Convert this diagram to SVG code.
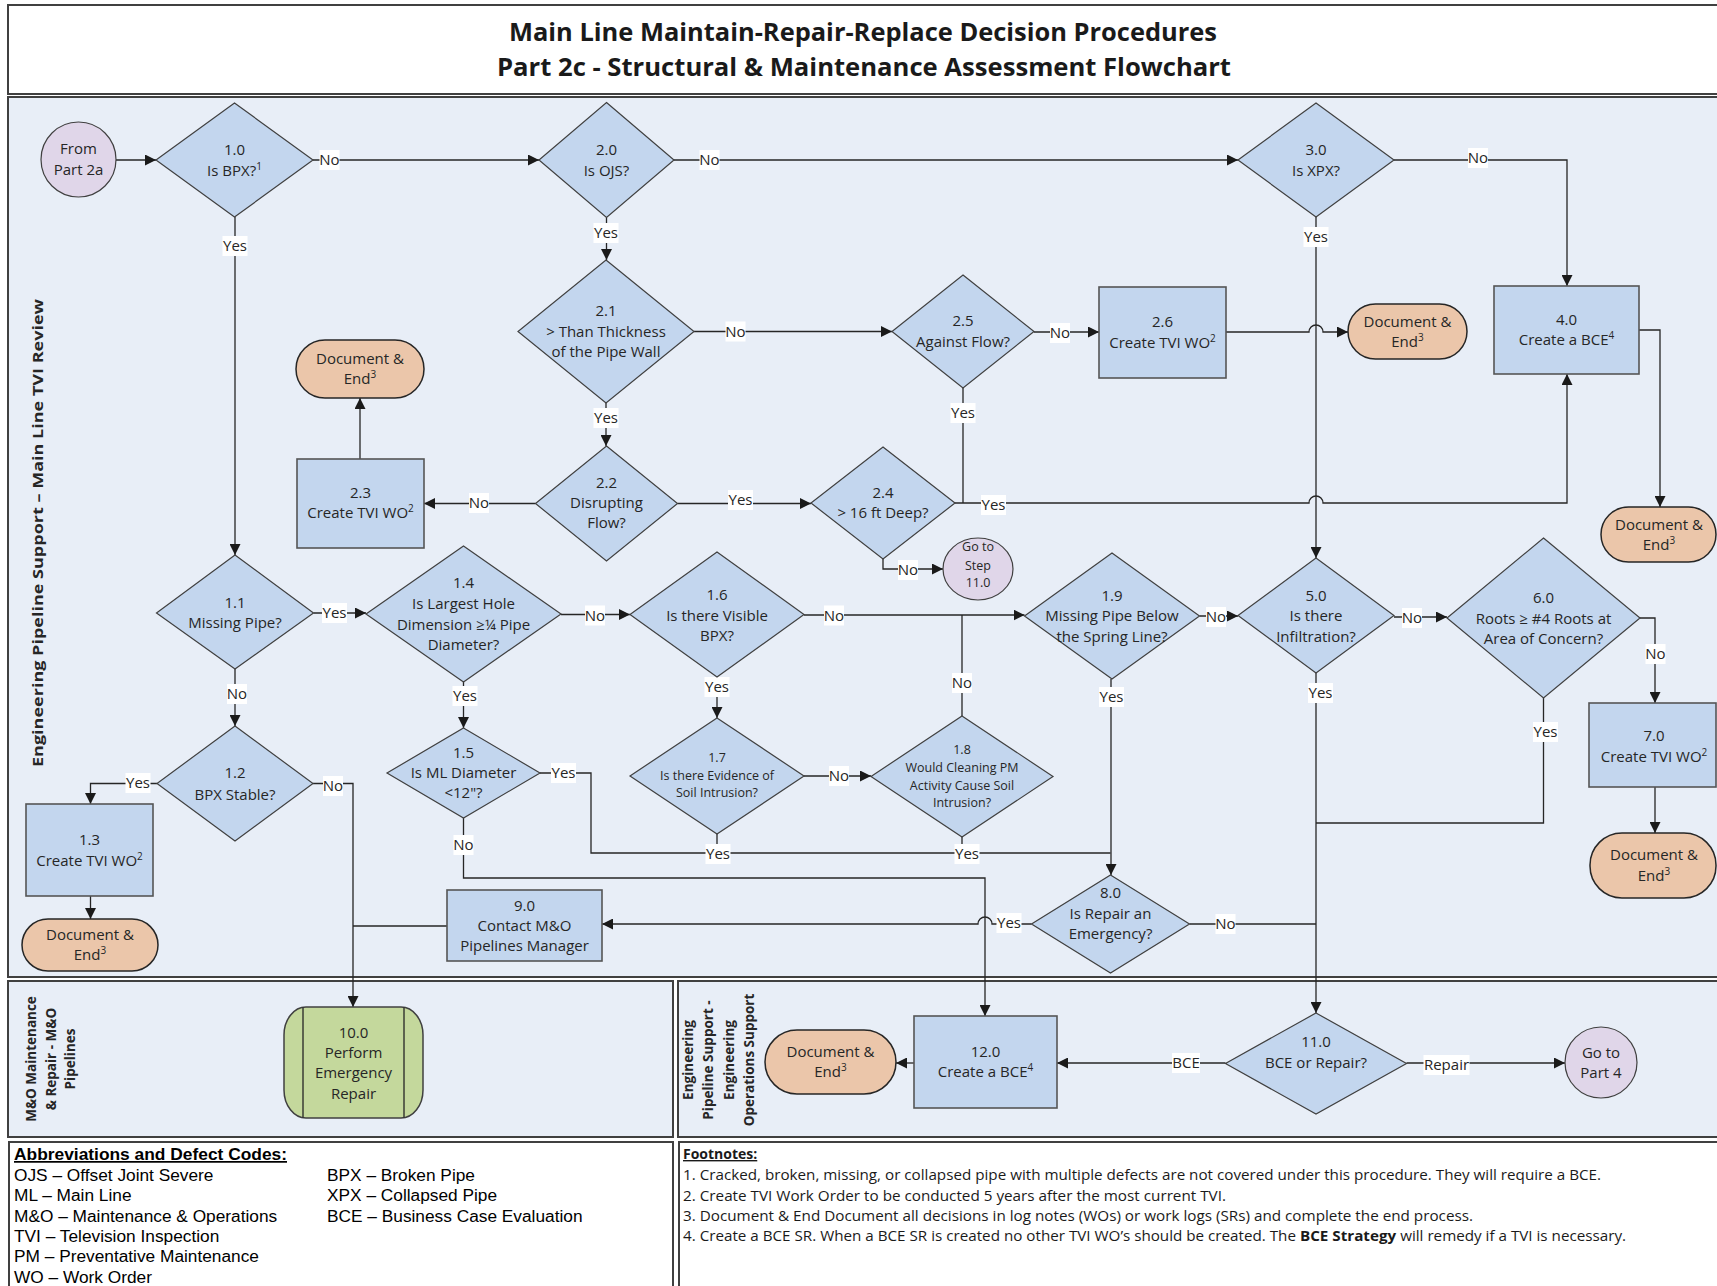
<svg xmlns="http://www.w3.org/2000/svg" width="1717" height="1286" viewBox="0 0 1717 1286">
  <defs>
    <style>
      .frame{fill:#ffffff;stroke:#404040;stroke-width:2}
      .lane{fill:#E8EEF7;stroke:#404040;stroke-width:2}
      .dec{fill:#C3D6EE;stroke:#404040;stroke-width:1.2}
      .proc{fill:#C3D6EE;stroke:#555555;stroke-width:1.6}
      .term{fill:#EBC6AA;stroke:#262626;stroke-width:1.5}
      .conn{fill:#E0D6E9;stroke:#404040;stroke-width:1.2}
      .emer{fill:#C4D89C;stroke:#404040;stroke-width:1.5}
      .edge{fill:none;stroke:#262626;stroke-width:1.3}
      .arrow{marker-end:url(#ah)}
      .t{font-family:"Open Sans","Noto Sans","DejaVu Sans",sans-serif;font-size:15px;fill:#262626;text-anchor:middle}
      .sm{font-size:12.5px}
      .sup{font-size:10px}
      .lb rect{fill:#ffffff}
      .title{font-family:"Open Sans","Noto Sans",sans-serif;font-weight:700;font-size:25px;fill:#1a1a1a;text-anchor:middle}
      .lanet{font-family:"Open Sans","Noto Sans","DejaVu Sans",sans-serif;font-weight:700;font-size:13.5px;fill:#262626;text-anchor:middle}
      .abbr{font-family:"Liberation Sans",Arial,sans-serif;font-size:17.3px;fill:#000000}
      .foot{font-family:"Open Sans","Noto Sans",sans-serif;font-size:14px;fill:#1a1a1a}
      .hd{font-weight:700;text-decoration:underline}
    </style>
    <marker id="ah" markerUnits="userSpaceOnUse" markerWidth="11" markerHeight="11" refX="11" refY="5.5" orient="auto">
      <path d="M0,0 L11,5.5 L0,11 z" fill="#1a1a1a"/>
    </marker>
  </defs>

  <!-- frames and swimlanes -->
  <g id="frames">
    <rect class="frame" x="8" y="5" width="1720" height="89"/>
    <text class="title" x="863" y="41" textLength="708" lengthAdjust="spacingAndGlyphs">Main Line Maintain-Repair-Replace Decision Procedures</text>
    <text class="title" x="864" y="76" textLength="734" lengthAdjust="spacingAndGlyphs">Part 2c -  Structural &amp; Maintenance Assessment Flowchart</text>
    <rect class="lane" x="8" y="97" width="1720" height="880"/>
    <rect class="lane" x="8" y="981" width="665" height="156"/>
    <rect class="lane" x="678" y="981" width="1050" height="156"/>
    <rect class="frame" x="9" y="1142" width="664" height="150"/>
    <rect class="frame" x="679" y="1142" width="1050" height="150"/>
    <text class="lanet" transform="translate(43,533) rotate(-90)" textLength="468" lengthAdjust="spacingAndGlyphs">Engineering Pipeline Support –  Main Line TVI Review</text>
    <g class="lanet" transform="translate(0,1059) rotate(-90)">
      <text x="0" y="36">M&amp;O Maintenance</text>
      <text x="0" y="55.5">&amp; Repair - M&amp;O</text>
      <text x="0" y="75">Pipelines</text>
    </g>
    <g class="lanet" transform="translate(0,1060) rotate(-90)">
      <text x="0" y="692.5">Engineering</text>
      <text x="0" y="713">Pipeline Support -</text>
      <text x="0" y="733.5">Engineering</text>
      <text x="0" y="753.5">Operations Support</text>
    </g>
  </g>

  <!-- connectors -->
  <g id="connectors">
    <path class="edge arrow" d="M116,160 L156,160"/>
    <path class="edge arrow" d="M313,160 L539,160"/>
    <path class="edge arrow" d="M674,160 L1238,160"/>
    <path class="edge arrow" d="M1394,160 L1567,160 L1567,286"/>
    <path class="edge arrow" d="M606.5,217.5 L606.5,260"/>
    <path class="edge arrow" d="M694,331.5 L892,331.5"/>
    <path class="edge arrow" d="M1034,332 L1099,332"/>
    <path class="edge arrow" d="M1226,332 L1309,332 A7,7 0 0 1 1323,332 L1348,332"/>
    <path class="edge arrow" d="M606,403 L606,446"/>
    <path class="edge arrow" d="M535.5,503.5 L424,503.5"/>
    <path class="edge arrow" d="M360,459 L360,398"/>
    <path class="edge arrow" d="M677.5,503.5 L811,503.5"/>
    <path class="edge arrow" d="M883,559 L883,569 L943,569"/>
    <path class="edge arrow" d="M955,503 L1309,503 A7,7 0 0 1 1323,503 L1567,503 L1567,374"/>
    <path class="edge" d="M963,388 L963,503"/>
    <path class="edge arrow" d="M1639,330 L1660,330 L1660,507"/>
    <path class="edge arrow" d="M1316,217 L1316,558"/>
    <path class="edge arrow" d="M235,217 L235,555"/>
    <path class="edge arrow" d="M313.5,613 L366,613"/>
    <path class="edge arrow" d="M561,614.5 L630,614.5"/>
    <path class="edge arrow" d="M804,615 L1024.5,615"/>
    <path class="edge" d="M962,716 L962,615"/>
    <path class="edge arrow" d="M1199.5,616 L1238,616"/>
    <path class="edge arrow" d="M1394,617 L1447,617"/>
    <path class="edge arrow" d="M1640,618 L1655,618 L1655,703"/>
    <path class="edge arrow" d="M1655,787 L1655,833"/>
    <path class="edge arrow" d="M235,669 L235,726"/>
    <path class="edge arrow" d="M157,783.5 L90.5,783.5 L90.5,804"/>
    <path class="edge arrow" d="M90.5,896 L90.5,919"/>
    <path class="edge arrow" d="M313,783.5 L353,783.5 L353,1007"/>
    <path class="edge" d="M447,926 L353,926"/>
    <path class="edge arrow" d="M463.5,682 L463.5,728"/>
    <path class="edge" d="M540,773 L591,773 L591,853 L1110.5,853"/>
    <path class="edge arrow" d="M1111,679 L1111,875"/>
    <path class="edge arrow" d="M463.5,818 L463.5,878 L985,878 L985,1016"/>
    <path class="edge arrow" d="M717,677 L717,718"/>
    <path class="edge arrow" d="M804,776 L871,776"/>
    <path class="edge" d="M717,834 L717,853"/>
    <path class="edge" d="M962,837 L962,853"/>
    <path class="edge arrow" d="M1031.5,924 L992,924 A7,7 0 0 0 978,924 L602,924"/>
    <path class="edge" d="M1189.5,924 L1316,924"/>
    <path class="edge arrow" d="M1316,673 L1316,1013"/>
    <path class="edge" d="M1543.5,698 L1543.5,823 L1316,823"/>
    <path class="edge arrow" d="M1225.5,1063 L1057,1063"/>
    <path class="edge arrow" d="M914,1063 L896,1063"/>
    <path class="edge arrow" d="M1406.5,1063 L1565,1063"/>

    <!-- connector labels -->
    <g class="lb t">
      <rect x="319.5" y="150" width="20" height="20"/><text x="329.5" y="165">No</text>
      <rect x="699.5" y="150" width="20" height="20"/><text x="709.5" y="165">No</text>
      <rect x="1468" y="148" width="20" height="20"/><text x="1478" y="163">No</text>
      <rect x="593.5" y="223" width="25" height="20"/><text x="606" y="238">Yes</text>
      <rect x="1303.5" y="227" width="25" height="20"/><text x="1316" y="242">Yes</text>
      <rect x="222.5" y="236" width="25" height="20"/><text x="235" y="251">Yes</text>
      <rect x="725.5" y="321.5" width="20" height="20"/><text x="735.5" y="336.5">No</text>
      <rect x="1050" y="323" width="20" height="20"/><text x="1060" y="338">No</text>
      <rect x="593.5" y="408" width="25" height="20"/><text x="606" y="423">Yes</text>
      <rect x="950.5" y="403" width="25" height="20"/><text x="963" y="418">Yes</text>
      <rect x="469" y="493" width="20" height="20"/><text x="479" y="508">No</text>
      <rect x="728" y="490" width="25" height="20"/><text x="740.5" y="505">Yes</text>
      <rect x="981" y="495" width="25" height="20"/><text x="993.5" y="510">Yes</text>
      <rect x="898" y="560" width="20" height="20"/><text x="908" y="575">No</text>
      <rect x="322" y="603" width="25" height="20"/><text x="334.5" y="618">Yes</text>
      <rect x="585" y="605.5" width="20" height="20"/><text x="595" y="620.5">No</text>
      <rect x="824" y="605.5" width="20" height="20"/><text x="834" y="620.5">No</text>
      <rect x="952" y="673" width="20" height="20"/><text x="962" y="688">No</text>
      <rect x="1206" y="607" width="20" height="20"/><text x="1216" y="622">No</text>
      <rect x="1402" y="608" width="20" height="20"/><text x="1412" y="623">No</text>
      <rect x="1645.5" y="644" width="20" height="20"/><text x="1655.5" y="659">No</text>
      <rect x="1099" y="687" width="25" height="20"/><text x="1111.5" y="702">Yes</text>
      <rect x="1308" y="683" width="25" height="20"/><text x="1320.5" y="698">Yes</text>
      <rect x="1533" y="722" width="25" height="20"/><text x="1545.5" y="737">Yes</text>
      <rect x="227" y="684" width="20" height="20"/><text x="237" y="699">No</text>
      <rect x="452.5" y="686" width="25" height="20"/><text x="465" y="701">Yes</text>
      <rect x="704.5" y="677" width="25" height="20"/><text x="717" y="692">Yes</text>
      <rect x="125.5" y="773" width="25" height="20"/><text x="138" y="788">Yes</text>
      <rect x="323" y="776" width="20" height="20"/><text x="333" y="791">No</text>
      <rect x="551" y="763" width="25" height="20"/><text x="563.5" y="778">Yes</text>
      <rect x="829" y="766" width="20" height="20"/><text x="839" y="781">No</text>
      <rect x="453.5" y="835" width="20" height="20"/><text x="463.5" y="850">No</text>
      <rect x="705.5" y="844" width="25" height="20"/><text x="718" y="859">Yes</text>
      <rect x="954.5" y="844" width="25" height="20"/><text x="967" y="859">Yes</text>
      <rect x="996.5" y="913" width="25" height="20"/><text x="1009" y="928">Yes</text>
      <rect x="1215.5" y="914" width="20" height="20"/><text x="1225.5" y="929">No</text>
      <rect x="1172" y="1053" width="28" height="20"/><text x="1186" y="1068">BCE</text>
      <rect x="1423.5" y="1055" width="46" height="20"/><text x="1446.5" y="1070">Repair</text>
    </g>
  </g>

  <!-- start / off-page connectors -->
  <g id="n-from2a">
    <ellipse class="conn" cx="78.5" cy="159.5" rx="37.5" ry="37.5"/>
    <text class="t"><tspan x="78.5" y="154">From</tspan><tspan x="78.5" y="175">Part 2a</tspan></text>
  </g>
  <g id="n-goto11">
    <ellipse class="conn" cx="978" cy="569" rx="35" ry="31"/>
    <text class="t sm"><tspan x="978" y="551">Go to</tspan><tspan x="978" y="569.5">Step</tspan><tspan x="978" y="587">11.0</tspan></text>
  </g>
  <g id="n-gotopart4">
    <ellipse class="conn" cx="1601" cy="1062.5" rx="36" ry="35.5"/>
    <text class="t"><tspan x="1601" y="1058">Go to</tspan><tspan x="1601" y="1078">Part 4</tspan></text>
  </g>

  <!-- decisions -->
  <g id="n-1-0">
    <polygon class="dec" points="234.5,103 313,160 234.5,217 156,160"/>
    <text class="t"><tspan x="234.5" y="155">1.0</tspan><tspan x="234.5" y="176">Is BPX?<tspan class="sup" dy="-6">1</tspan></tspan></text>
  </g>
  <g id="n-2-0">
    <polygon class="dec" points="606.5,102.5 674,160 606.5,217.5 539,160"/>
    <text class="t"><tspan x="606.5" y="155">2.0</tspan><tspan x="606.5" y="176">Is OJS?</tspan></text>
  </g>
  <g id="n-3-0">
    <polygon class="dec" points="1316,103 1394,160 1316,217 1238,160"/>
    <text class="t"><tspan x="1316" y="155">3.0</tspan><tspan x="1316" y="176">Is XPX?</tspan></text>
  </g>
  <g id="n-2-1">
    <polygon class="dec" points="606,260 694,331.5 606,403 518,331.5"/>
    <text class="t"><tspan x="606" y="316">2.1</tspan><tspan x="606" y="337">&gt; Than Thickness</tspan><tspan x="606" y="357">of the Pipe Wall</tspan></text>
  </g>
  <g id="n-2-5">
    <polygon class="dec" points="963,275 1034,331.5 963,388 892,331.5"/>
    <text class="t"><tspan x="963" y="326">2.5</tspan><tspan x="963" y="347">Against Flow?</tspan></text>
  </g>
  <g id="n-2-2">
    <polygon class="dec" points="606.5,446 677.5,503.5 606.5,561 535.5,503.5"/>
    <text class="t"><tspan x="606.5" y="488">2.2</tspan><tspan x="606.5" y="508">Disrupting</tspan><tspan x="606.5" y="528">Flow?</tspan></text>
  </g>
  <g id="n-2-4">
    <polygon class="dec" points="883,447 955,503 883,559 811,503"/>
    <text class="t"><tspan x="883" y="498">2.4</tspan><tspan x="883" y="518">&gt; 16 ft Deep?</tspan></text>
  </g>
  <g id="n-1-1">
    <polygon class="dec" points="235,555 313.5,613 235,669 156.5,613"/>
    <text class="t"><tspan x="235" y="608">1.1</tspan><tspan x="235" y="628">Missing Pipe?</tspan></text>
  </g>
  <g id="n-1-4">
    <polygon class="dec" points="463.5,546 561,614 463.5,682 366,614"/>
    <text class="t"><tspan x="463.5" y="588">1.4</tspan><tspan x="463.5" y="609">Is Largest Hole</tspan><tspan x="463.5" y="629.5">Dimension ≥¼ Pipe</tspan><tspan x="463.5" y="650">Diameter?</tspan></text>
  </g>
  <g id="n-1-6">
    <polygon class="dec" points="717,552 804,614.5 717,677 630,614.5"/>
    <text class="t"><tspan x="717" y="600">1.6</tspan><tspan x="717" y="621">Is there Visible</tspan><tspan x="717" y="641">BPX?</tspan></text>
  </g>
  <g id="n-1-9">
    <polygon class="dec" points="1112,553 1199.5,616 1112,679 1024.5,616"/>
    <text class="t"><tspan x="1112" y="601">1.9</tspan><tspan x="1112" y="621">Missing Pipe Below</tspan><tspan x="1112" y="642">the Spring Line?</tspan></text>
  </g>
  <g id="n-5-0">
    <polygon class="dec" points="1316,558 1394,615.5 1316,673 1238,615.5"/>
    <text class="t"><tspan x="1316" y="601">5.0</tspan><tspan x="1316" y="621">Is there</tspan><tspan x="1316" y="642">Infiltration?</tspan></text>
  </g>
  <g id="n-6-0">
    <polygon class="dec" points="1543.5,538 1640,618 1543.5,698 1447,618"/>
    <text class="t"><tspan x="1543.5" y="603">6.0</tspan><tspan x="1543.5" y="624">Roots ≥ #4 Roots at</tspan><tspan x="1543.5" y="644">Area of Concern?</tspan></text>
  </g>
  <g id="n-1-2">
    <polygon class="dec" points="235,726 313,783.5 235,841 157,783.5"/>
    <text class="t"><tspan x="235" y="778">1.2</tspan><tspan x="235" y="800">BPX Stable?</tspan></text>
  </g>
  <g id="n-1-5">
    <polygon class="dec" points="463.5,728 540,773 463.5,818 387,773"/>
    <text class="t"><tspan x="463.5" y="758">1.5</tspan><tspan x="463.5" y="778">Is ML Diameter</tspan><tspan x="463.5" y="798">&lt;12"?</tspan></text>
  </g>
  <g id="n-1-7">
    <polygon class="dec" points="717,718 804,776 717,834 630,776"/>
    <text class="t sm"><tspan x="717" y="762">1.7</tspan><tspan x="717" y="780">Is there Evidence of</tspan><tspan x="717" y="797">Soil Intrusion?</tspan></text>
  </g>
  <g id="n-1-8">
    <polygon class="dec" points="962,716 1053,776.5 962,837 871,776.5"/>
    <text class="t sm"><tspan x="962" y="754">1.8</tspan><tspan x="962" y="772">Would Cleaning PM</tspan><tspan x="962" y="790">Activity Cause Soil</tspan><tspan x="962" y="807">Intrusion?</tspan></text>
  </g>
  <g id="n-8-0">
    <polygon class="dec" points="1110.5,875 1189.5,924 1110.5,973 1031.5,924"/>
    <text class="t"><tspan x="1110.5" y="898">8.0</tspan><tspan x="1110.5" y="918.5">Is Repair an</tspan><tspan x="1110.5" y="938.5">Emergency?</tspan></text>
  </g>
  <g id="n-11-0">
    <polygon class="dec" points="1316,1013 1406.5,1063.5 1316,1114 1225.5,1063.5"/>
    <text class="t"><tspan x="1316" y="1047">11.0</tspan><tspan x="1316" y="1068">BCE or Repair?</tspan></text>
  </g>

  <!-- process steps -->
  <g id="n-2-6">
    <rect class="proc" x="1099" y="287" width="127" height="91"/>
    <text class="t"><tspan x="1162.5" y="327">2.6</tspan><tspan x="1162.5" y="348">Create TVI WO<tspan class="sup" dy="-6">2</tspan></tspan></text>
  </g>
  <g id="n-4-0">
    <rect class="proc" x="1494" y="286" width="145" height="88"/>
    <text class="t"><tspan x="1566.5" y="325">4.0</tspan><tspan x="1566.5" y="345">Create a BCE<tspan class="sup" dy="-6">4</tspan></tspan></text>
  </g>
  <g id="n-2-3">
    <rect class="proc" x="297" y="459" width="127" height="89"/>
    <text class="t"><tspan x="360.5" y="498">2.3</tspan><tspan x="360.5" y="518">Create TVI WO<tspan class="sup" dy="-6">2</tspan></tspan></text>
  </g>
  <g id="n-7-0">
    <rect class="proc" x="1589" y="703" width="127" height="84"/>
    <text class="t"><tspan x="1654" y="741">7.0</tspan><tspan x="1654" y="762">Create TVI WO<tspan class="sup" dy="-6">2</tspan></tspan></text>
  </g>
  <g id="n-1-3">
    <rect class="proc" x="26" y="804" width="127" height="92"/>
    <text class="t"><tspan x="89.5" y="845">1.3</tspan><tspan x="89.5" y="866">Create TVI WO<tspan class="sup" dy="-6">2</tspan></tspan></text>
  </g>
  <g id="n-9-0">
    <rect class="proc" x="447" y="890" width="155" height="71"/>
    <text class="t"><tspan x="524.5" y="911">9.0</tspan><tspan x="524.5" y="931">Contact M&amp;O</tspan><tspan x="524.5" y="951">Pipelines Manager</tspan></text>
  </g>
  <g id="n-12-0">
    <rect class="proc" x="914" y="1016" width="143" height="92"/>
    <text class="t"><tspan x="985.5" y="1057">12.0</tspan><tspan x="985.5" y="1077">Create a BCE<tspan class="sup" dy="-6">4</tspan></tspan></text>
  </g>
  <g id="n-10-0">
    <rect class="emer" x="284" y="1007" width="139" height="111" rx="22" ry="28"/>
    <path class="edge" d="M303,1007.5 L303,1117.5 M404,1007.5 L404,1117.5"/>
    <text class="t"><tspan x="353.5" y="1038">10.0</tspan><tspan x="353.5" y="1058">Perform</tspan><tspan x="353.5" y="1078">Emergency</tspan><tspan x="353.5" y="1099">Repair</tspan></text>
  </g>

  <!-- document & end terminals -->
  <g id="n-end-2-3">
    <rect class="term" x="296" y="340" width="128" height="58" rx="29" ry="29"/>
    <text class="t"><tspan x="360" y="364">Document &amp;</tspan><tspan x="360" y="384">End<tspan class="sup" dy="-6">3</tspan></tspan></text>
  </g>
  <g id="n-end-2-6">
    <rect class="term" x="1348" y="304" width="119" height="55" rx="27.5" ry="27.5"/>
    <text class="t"><tspan x="1407.5" y="327">Document &amp;</tspan><tspan x="1407.5" y="347">End<tspan class="sup" dy="-6">3</tspan></tspan></text>
  </g>
  <g id="n-end-4-0">
    <rect class="term" x="1601" y="507" width="115" height="55" rx="27.5" ry="27.5"/>
    <text class="t"><tspan x="1659" y="530">Document &amp;</tspan><tspan x="1659" y="550">End<tspan class="sup" dy="-6">3</tspan></tspan></text>
  </g>
  <g id="n-end-7-0">
    <rect class="term" x="1590" y="833" width="126" height="65" rx="32" ry="32"/>
    <text class="t"><tspan x="1654" y="860">Document &amp;</tspan><tspan x="1654" y="881">End<tspan class="sup" dy="-6">3</tspan></tspan></text>
  </g>
  <g id="n-end-1-3">
    <rect class="term" x="22" y="919" width="136" height="52" rx="26" ry="26"/>
    <text class="t"><tspan x="90" y="940">Document &amp;</tspan><tspan x="90" y="960">End<tspan class="sup" dy="-6">3</tspan></tspan></text>
  </g>
  <g id="n-end-12-0">
    <rect class="term" x="765" y="1030" width="131" height="64" rx="32" ry="32"/>
    <text class="t"><tspan x="830.5" y="1057">Document &amp;</tspan><tspan x="830.5" y="1077">End<tspan class="sup" dy="-6">3</tspan></tspan></text>
  </g>

  <!-- legend -->
  <g id="abbreviations" class="abbr">
    <text class="hd" x="14" y="1160" textLength="273" lengthAdjust="spacingAndGlyphs">Abbreviations and Defect Codes:</text>
    <text x="14" y="1180.5">OJS  – Offset Joint Severe</text>
    <text x="14" y="1201">ML  – Main Line</text>
    <text x="14" y="1221.5">M&amp;O – Maintenance &amp; Operations</text>
    <text x="14" y="1242">TVI  – Television Inspection</text>
    <text x="14" y="1262">PM  – Preventative Maintenance</text>
    <text x="14" y="1282.5">WO – Work Order</text>
    <text x="327" y="1180.5">BPX – Broken Pipe</text>
    <text x="327" y="1201">XPX – Collapsed Pipe</text>
    <text x="327" y="1221.5">BCE – Business Case Evaluation</text>
  </g>
  <g id="footnotes" class="foot">
    <text class="hd" x="683" y="1159">Footnotes:</text>
    <text x="683" y="1180" textLength="918" lengthAdjust="spacingAndGlyphs">1. Cracked, broken, missing, or collapsed pipe with multiple defects are not covered under this procedure. They will require a BCE.</text>
    <text x="683" y="1201" textLength="543" lengthAdjust="spacingAndGlyphs">2. Create TVI Work Order to be conducted 5 years after the most current TVI.</text>
    <text x="683" y="1221" textLength="790" lengthAdjust="spacingAndGlyphs">3. Document &amp; End Document all decisions in log notes (WOs) or work logs (SRs) and complete the end process.</text>
    <text x="683" y="1241" textLength="943" lengthAdjust="spacingAndGlyphs">4. Create a BCE SR. When a BCE SR is created no other TVI WO’s should be created. The <tspan font-weight="700">BCE Strategy</tspan> will remedy if a TVI is necessary.</text>
  </g>
</svg>
